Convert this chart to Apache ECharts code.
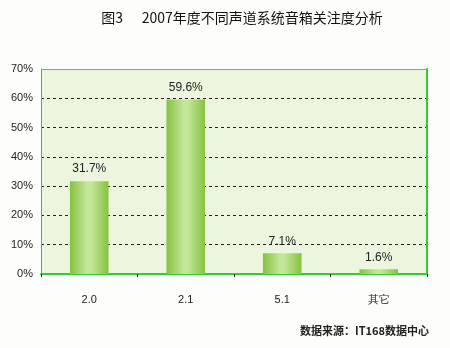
<!DOCTYPE html>
<html><head><meta charset="utf-8">
<script src="https://cdn.jsdelivr.net/npm/echarts@6/dist/echarts.min.js"></script>
<style>html,body{margin:0;padding:0;background:#fdfefb;}#c{width:450px;height:348px;}</style>
</head><body><div id="c"></div>
<script>
const categories = ['2.0', '2.1', '5.1', '其它'];
const values = [31.7, 59.6, 7.1, 1.6];
const yTicks = [0, 10, 20, 30, 40, 50, 60, 70];
const titleText = '图3      2007年度不同声道系统音箱关注度分析';
const sourceText = '数据来源：IT168数据中心';

const chart = echarts.init(document.getElementById('c'));
chart.setOption({
  backgroundColor: '#fdfefb',
  animation: false,
  title: [{
    text: titleText, left: 237, top: 6, textAlign: 'center',
    textStyle: {fontSize: 14, fontWeight: 'normal', color: '#111', fontFamily: 'Noto Sans CJK SC'}
  }, {
    text: sourceText, right: 16, top: 320,
    textStyle: {fontSize: 11, fontWeight: 'bold', color: '#222', fontFamily: 'Noto Sans CJK SC'}
  }],
  grid: {left: 41, right: 23, top: 69, bottom: 74, show: true, backgroundColor: '#ecf6df', borderWidth: 0},
  xAxis: {
    type: 'category', data: categories,
    axisLine: {show: true, lineStyle: {color: '#33cc33', width: 2}},
    axisTick: {show: true, alignWithLabel: false, length: 3, lineStyle: {color: '#222'}},
    axisLabel: {color: '#222', fontSize: 11, margin: 20, fontFamily: 'Liberation Sans'}
  },
  yAxis: [{
    type: 'value', min: 0, max: 70, interval: 10,
    axisLine: {show: true, lineStyle: {color: '#888', width: 1}},
    axisTick: {show: false},
    axisLabel: {color: '#222', fontSize: 11, margin: 8, formatter: v => yTicks.includes(v) ? v + '%' : '', fontFamily: 'Liberation Sans'},
    splitLine: {show: true, lineStyle: {color: '#222', type: [3, 3], width: 1}}
  }, {
    type: 'value', min: 0, max: 70, interval: 10, position: 'right',
    axisLine: {show: true, lineStyle: {color: '#33cc33', width: 2}},
    axisTick: {show: false}, axisLabel: {show: false}, splitLine: {show: false}
  }],
  series: [{
    type: 'bar', data: values, barWidth: '40%',
    itemStyle: {color: new echarts.graphic.LinearGradient(0, 0, 1, 0, [
      {offset: 0, color: '#86c240'}, {offset: 0.45, color: '#c4e69a'}, {offset: 0.55, color: '#c4e69a'}, {offset: 1, color: '#86c240'}
    ])},
    label: {show: true, position: 'top', distance: 6, formatter: p => p.value + '%', color: '#222', fontSize: 12, fontFamily: 'Liberation Sans'}
  }, {
    type: 'line', yAxisIndex: 0, data: [], markLine: {
      silent: true, symbol: 'none', label: {show: false},
      lineStyle: {color: '#999', type: 'solid', width: 1},
      data: [{yAxis: 70}]
    }
  }]
});
</script></body></html>
